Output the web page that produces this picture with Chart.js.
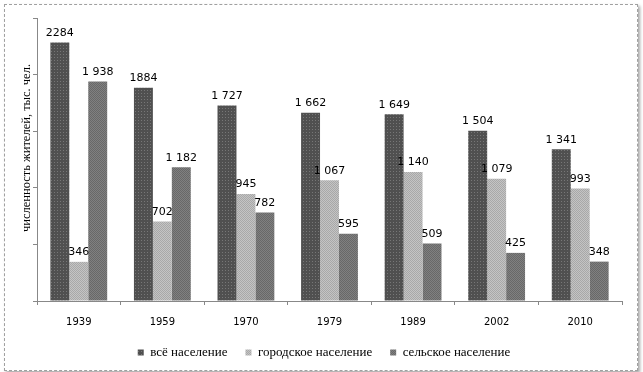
<!DOCTYPE html>
<html>
<head>
<meta charset="utf-8">
<script src="https://cdn.jsdelivr.net/npm/chart.js@4"></script>
<style>
  body { margin: 0; background: #fff; }
  #frame {
    position: absolute; left: 4px; top: 4px; width: 632px; height: 365px;
    border: 1px dashed #a0a0a0; box-shadow: 2px 2px 3px rgba(0,0,0,0.35);
  }
  #wrap { position: absolute; left: 0; top: 0; width: 643px; height: 372px; }
</style>
</head>
<body>
<div id="frame"></div>
<div id="wrap"><canvas id="myChart" width="643" height="372"></canvas></div>
<script>
const years = ["1939", "1959", "1970", "1979", "1989", "2002", "2010"];
const seriesNames = ["всё население", "городское население", "сельское население"];
const totalPop = [2284, 1884, 1727, 1662, 1649, 1504, 1341];
const urbanPop = [346, 702, 945, 1067, 1140, 1079, 993];
const ruralPop = [1938, 1182, 782, 595, 509, 425, 348];
// labels as printed in the picture (some without thousands space)
const totalLabels = ["2284", "1884", "1 727", "1 662", "1 649", "1 504", "1 341"];
const urbanLabels = ["346", "702", "945", "1 067", "1 140", "1 079", "993"];
const ruralLabels = ["1 938", "1 182", "782", "595", "509", "425", "348"];
const yTitle = "численность жителей, тыс. чел.";

// small textured fills like the printed chart
function makePattern(base, dot, step) {
  const c = document.createElement("canvas");
  c.width = step; c.height = step;
  const g = c.getContext("2d");
  g.fillStyle = base;
  g.fillRect(0, 0, step, step);
  g.fillStyle = dot;
  g.fillRect(0, 0, 1, 1);
  if (step === 2) g.fillRect(1, 1, 1, 1);
  return g.createPattern(c, "repeat");
}
const ctx = document.getElementById("myChart").getContext("2d");
const darkFill = makePattern("#505050", "#777777", 3);
const lightFill = makePattern("#c4c4c4", "#a8a8a8", 2);
const midFill = makePattern("#808080", "#686868", 2);

const barLabels = {
  id: "barLabels",
  afterDatasetsDraw(chart) {
    const c = chart.ctx;
    c.save();
    c.font = "11px 'DejaVu Sans'";
    c.fillStyle = "#000";
    c.textAlign = "center";
    c.textBaseline = "bottom";
    chart.data.datasets.forEach((ds, i) => {
      chart.getDatasetMeta(i).data.forEach((bar, j) => {
        c.fillText(ds.valueLabels[j], bar.x, bar.y - 4);
      });
    });
    c.restore();
  }
};

// rotated axis title, placed a bit above the middle like the original
const axisTitle = {
  id: "axisTitle",
  afterDraw(chart) {
    const c = chart.ctx;
    c.save();
    c.translate(27, 148);
    c.rotate(-Math.PI / 2);
    c.font = "12.5px 'Liberation Serif'";
    c.fillStyle = "#000";
    c.textAlign = "center";
    c.textBaseline = "middle";
    c.fillText(yTitle, 0, 0);
    c.restore();
  }
};

new Chart(ctx, {
  type: "bar",
  data: {
    labels: years,
    datasets: [
      { label: seriesNames[0], data: totalPop, valueLabels: totalLabels, backgroundColor: darkFill },
      { label: seriesNames[1], data: urbanPop, valueLabels: urbanLabels, backgroundColor: lightFill },
      { label: seriesNames[2], data: ruralPop, valueLabels: ruralLabels, backgroundColor: midFill }
    ]
  },
  options: {
    responsive: false,
    animation: false,
    categoryPercentage: 0.68,
    barPercentage: 1.0,
    layout: { padding: { top: 18, right: 21, left: 26, bottom: 3 } },
    plugins: {
      legend: {
        position: "bottom",
        labels: {
          boxWidth: 6,
          boxHeight: 6,
          padding: 18,
          color: "#000",
          font: { family: "'Liberation Serif'", size: 13 }
        }
      },
      tooltip: { enabled: false }
    },
    scales: {
      x: {
        grid: { drawOnChartArea: false, tickLength: 4, color: "#888" },
        border: { color: "#888" },
        ticks: { color: "#000", padding: 11, font: { family: "'DejaVu Sans'", size: 10 } },
        afterFit: (s) => { s.height = 27; }
      },
      y: {
        min: 0,
        max: 2500,
        ticks: { stepSize: 500, display: false },
        grid: { drawOnChartArea: false, tickLength: 4, color: "#888" },
        border: { color: "#888" },
        afterFit: (s) => { s.width = 11; }
      }
    }
  },
  plugins: [barLabels, axisTitle]
});
</script>
</body>
</html>
